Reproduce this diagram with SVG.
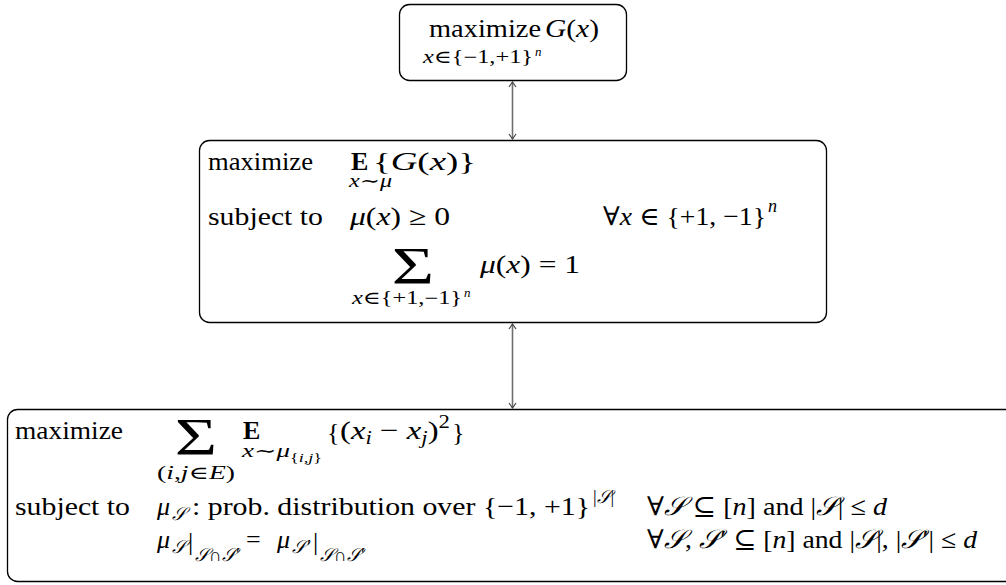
<svg xmlns="http://www.w3.org/2000/svg" width="1006" height="585" viewBox="0 0 1006 585">
<style>
.box{fill:#fff;stroke:#000;stroke-width:1.3}
text{font-family:"Liberation Serif","DejaVu Serif",serif;font-size:26px;fill:#000}
.s{font-size:18px}
.ss{font-size:13px}
.i{font-style:italic}
.b{font-weight:bold}
.sig{font-size:52px}
.c{stroke:#6e6e6e;stroke-width:1.6;fill:none}
</style>
<defs>
<marker id="ah" viewBox="-6 -5 8 10" markerWidth="8" markerHeight="10" refX="0" refY="0" orient="auto-start-reverse" markerUnits="userSpaceOnUse">
<path d="M-5,-3.5 L0,0 L-5,3.5" fill="none" stroke="#444" stroke-width="1.2"/>
</marker>
</defs>
<g id="connectors">
<line class="c" x1="512.5" y1="82" x2="512.5" y2="139" marker-start="url(#ah)" marker-end="url(#ah)"/>
<line class="c" x1="512.5" y1="324" x2="512.5" y2="408" marker-start="url(#ah)" marker-end="url(#ah)"/>
</g>
<g id="top">
<rect class="box" x="399.5" y="4.5" width="227" height="76" rx="10"/>
<text x="429" y="37" textLength="112" lengthAdjust="spacingAndGlyphs">maximize</text>
<text x="545" y="37" textLength="54" lengthAdjust="spacingAndGlyphs"><tspan class="i">G</tspan>(<tspan class="i">x</tspan>)</text>
<text class="s" x="423" y="63" textLength="110" lengthAdjust="spacingAndGlyphs"><tspan class="i">x</tspan>∈{−1,+1}</text>
<text class="ss i" x="535" y="56">n</text>
</g>
<g id="middle">
<rect class="box" x="199.5" y="140.5" width="627" height="182" rx="10"/>
<text x="208" y="170" textLength="105" lengthAdjust="spacingAndGlyphs">maximize</text>
<text class="b" x="351" y="170">E</text>
<text class="s" x="349" y="187" textLength="43" lengthAdjust="spacingAndGlyphs"><tspan class="i">x</tspan>∼<tspan class="i">μ</tspan></text>
<text x="373" y="170" textLength="103" lengthAdjust="spacingAndGlyphs">{<tspan class="i">G</tspan>(<tspan class="i">x</tspan>)}</text>
<text x="208" y="225" textLength="115" lengthAdjust="spacingAndGlyphs">subject to</text>
<text x="350" y="225" textLength="100" lengthAdjust="spacingAndGlyphs"><tspan class="i">μ</tspan>(<tspan class="i">x</tspan>) ≥ 0</text>
<text x="603" y="225" textLength="163" lengthAdjust="spacingAndGlyphs">∀<tspan class="i">x</tspan> ∈ {+1, −1}</text>
<text class="s i" x="768" y="212">n</text>
<text class="sig" transform="translate(413,284) scale(1.4,1)" x="0" y="0" text-anchor="middle">Σ</text>
<text x="480" y="273" textLength="100" lengthAdjust="spacingAndGlyphs"><tspan class="i">μ</tspan>(<tspan class="i">x</tspan>) = 1</text>
<text class="s" x="352" y="304" textLength="110" lengthAdjust="spacingAndGlyphs"><tspan class="i">x</tspan>∈{+1,−1}</text>
<text class="ss i" x="464" y="297">n</text>
</g>
<g id="bottom">
<rect class="box" x="7.5" y="409.5" width="1010" height="172" rx="10"/>
<text x="15" y="439" textLength="108" lengthAdjust="spacingAndGlyphs">maximize</text>
<text class="sig" transform="translate(196,455) scale(1.4,1)" x="0" y="0" text-anchor="middle">Σ</text>
<text class="s" x="157" y="479" textLength="78" lengthAdjust="spacingAndGlyphs">(<tspan class="i">i</tspan>,<tspan class="i">j</tspan>∈<tspan class="i">E</tspan>)</text>
<text class="b" x="243" y="439">E</text>
<text class="s" x="242" y="457" textLength="48" lengthAdjust="spacingAndGlyphs"><tspan class="i">x</tspan>∼<tspan class="i">μ</tspan></text>
<text class="ss" x="290" y="462" textLength="32" lengthAdjust="spacingAndGlyphs">{<tspan class="i">i</tspan>,<tspan class="i">j</tspan>}</text>
<text x="327" y="441" font-size="32">{</text>
<text x="340" y="439" textLength="110" lengthAdjust="spacingAndGlyphs">(<tspan class="i">x</tspan><tspan class="s i" dy="5">i</tspan><tspan dy="-5"> − </tspan><tspan class="i">x</tspan><tspan class="s i" dy="5">j</tspan><tspan dy="-5">)</tspan><tspan class="s" dy="-11">2</tspan></text>
<text x="452" y="441" font-size="32">}</text>
<text x="15" y="515" textLength="115" lengthAdjust="spacingAndGlyphs">subject to</text>
<text class="i" x="157" y="515">μ</text>
<text class="s i" x="172" y="520">𝒮</text>
<text x="192" y="515" textLength="398" lengthAdjust="spacingAndGlyphs"> : prob. distribution over {−1, +1}</text>
<text class="s" x="593" y="503">|<tspan class="i">𝒮</tspan>|</text>
<text x="647" y="515" textLength="240" lengthAdjust="spacingAndGlyphs">∀<tspan class="i">𝒮</tspan> ⊆ [<tspan class="i">n</tspan>] and |<tspan class="i">𝒮</tspan>| ≤ <tspan class="i">d</tspan></text>
<text class="i" x="157" y="548">μ</text>
<text class="s i" x="172" y="553">𝒮</text>
<text x="188" y="550" font-size="32">|</text>
<text class="s" x="195" y="561"><tspan class="i">𝒮</tspan>∩<tspan class="i">𝒮</tspan>′</text>
<text x="246" y="548">=</text>
<text class="i" x="277" y="548">μ</text>
<text class="s i" x="292" y="553">𝒮′</text>
<text x="313" y="550" font-size="32">|</text>
<text class="s" x="320" y="561"><tspan class="i">𝒮</tspan>∩<tspan class="i">𝒮</tspan>′</text>
<text x="647" y="548" textLength="330" lengthAdjust="spacingAndGlyphs">∀<tspan class="i">𝒮</tspan>, <tspan class="i">𝒮</tspan>′ ⊆ [<tspan class="i">n</tspan>] and |<tspan class="i">𝒮</tspan>|, |<tspan class="i">𝒮</tspan>′| ≤ <tspan class="i">d</tspan></text>
</g>
</svg>
